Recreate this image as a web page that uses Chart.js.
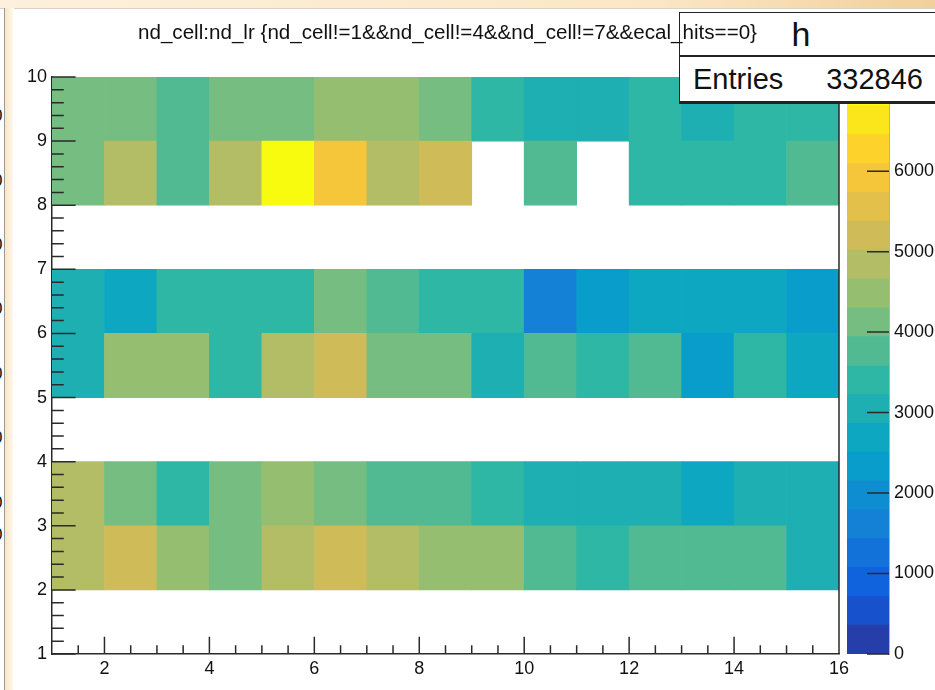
<!doctype html>
<html lang="en">
<head>
<meta charset="utf-8">
<title>nd_cell:nd_lr</title>
<script src="https://cdn.jsdelivr.net/npm/chart.js@4.4.1/dist/chart.umd.min.js"></script>
<style>
  body { margin: 0; background: #fff; }
  #wrap { position: relative; width: 935px; height: 690px; overflow: hidden; background: #fff;
          font-family: 'Liberation Sans', Arial, sans-serif; color: #111; }
  #topbar { position: absolute; left: 0; top: 0; width: 935px; height: 8px;
            background: linear-gradient(to right, #fdf0dc, #fbe7c6 70%, #f1d09a);
            border-bottom: 1px solid #d8d2c8; }
  #leftedge { position: absolute; left: 4px; top: 8px; width: 1px; height: 682px; background: #9a9a9a; }
  #leftbar { position: absolute; left: 5px; top: 8px; width: 9px; height: 682px;
             background: linear-gradient(to right, #fbe6c4, #fdf3e4 70%, #fff); }
  .frag { position: absolute; left: -7px; font-size: 17px; line-height: 17px; }
  canvas { position: absolute; top: 0; }
  #stats { position: absolute; left: 679px; top: 12px; width: 270px; height: 88px;
           border: 1.5px solid #222; border-bottom-width: 3px; background: #fff; }
  #stats .name { position: absolute; left: 0; width: 242px; top: 2px; text-align: center;
                 font-size: 34px; line-height: 38px; }
  #stats .sep { position: absolute; left: 0; right: 0; top: 42px; height: 1.5px; background: #222; }
  #stats .lab { position: absolute; left: 13px; top: 48px; font-size: 29px; line-height: 36px; }
  #stats .val { position: absolute; left: 128px; width: 115px; top: 48px; text-align: right;
                font-size: 29px; line-height: 36px; }
  #title { position: absolute; left: 138px; top: 21px; font-size: 20px; line-height: 22px;
           white-space: nowrap; transform-origin: 0 0; z-index: 2; }
</style>
</head>
<body>
<div id="wrap">
  <div id="topbar"></div>
  <div id="leftedge"></div>
  <div id="leftbar"></div>
  <div class="frag" style="top:107px">0</div>
  <div class="frag" style="top:172px">0</div>
  <div class="frag" style="top:236px">0</div>
  <div class="frag" style="top:300px">0</div>
  <div class="frag" style="top:365px">0</div>
  <div class="frag" style="top:429px">0</div>
  <div class="frag" style="top:494px">0</div>
  <div class="frag" style="top:526px">0</div>

  <canvas id="hmap" width="935" height="690" style="left:0"></canvas>
  <canvas id="zbar" width="95" height="690" style="left:840px"></canvas>

  <div id="stats">
    <div class="name">h</div>
    <div class="sep"></div>
    <div class="lab">Entries</div>
    <div class="val">332846</div>
  </div>
  <div id="title">nd_cell:nd_lr {nd_cell!=1&amp;&amp;nd_cell!=4&amp;&amp;nd_cell!=7&amp;&amp;ecal_hits==0}</div>
</div>

<script>
// nd_lr bins (x) and nd_cell rows (y), counts per bin
var xTicks = [2, 4, 6, 8, 10, 12, 14, 16];
var yTicks = [1, 2, 3, 4, 5, 6, 7, 8, 9, 10];
var zTicks = [0, 1000, 2000, 3000, 4000, 5000, 6000];
var xBinLow = [1, 2, 3, 4, 5, 6, 7, 8, 9, 10, 11, 12, 13, 14, 15];
var rowLow = [2, 3, 5, 6, 8, 9];

var cell2 = [4800, 5240, 4450, 4090, 4860, 5300, 4740, 4510, 4390, 3720, 3410, 3790, 3660, 3870, 3080];
var cell3 = [4930, 4160, 3350, 4020, 4560, 4230, 3810, 3690, 3440, 3150, 3020, 3090, 2740, 2980, 3120];
var cell5 = [3010, 4420, 4590, 3290, 4770, 5160, 4110, 4060, 3180, 3750, 3380, 3640, 2330, 3520, 2670];
var cell6 = [3060, 2590, 3310, 3460, 3390, 4180, 3900, 3530, 3270, 1620, 2440, 2700, 2610, 2820, 2270];
var cell8 = [4250, 4880, 3630, 4690, 7170, 5930, 4970, 5060, 0, 3700, 0, 3370, 3490, 3250, 3830];
var cell9 = [4130, 4070, 3740, 4200, 3990, 4340, 4620, 4280, 3560, 3200, 2910, 3430, 2950, 3320, 3470];
var rows = [cell2, cell3, cell5, cell6, cell8, cell9];

// kBird palette
var birdStops = [0.0, 0.125, 0.25, 0.375, 0.5, 0.625, 0.75, 0.875, 1.0];
var birdR = [0.2082, 0.0592, 0.0780, 0.0232, 0.1802, 0.5301, 0.8186, 0.9956, 0.9764];
var birdG = [0.1664, 0.3599, 0.5041, 0.6419, 0.7178, 0.7492, 0.7328, 0.7862, 0.9832];
var birdB = [0.5293, 0.8684, 0.8385, 0.7914, 0.6425, 0.4662, 0.3499, 0.1968, 0.0539];
var nLevels = 20;
var zMax = Math.max.apply(null, rows.map(function (r) { return Math.max.apply(null, r); }));

function bird(f) {
  var i = 0;
  while (i < birdStops.length - 2 && f > birdStops[i + 1]) i++;
  var t = (f - birdStops[i]) / (birdStops[i + 1] - birdStops[i]);
  var c = function (a) { return Math.round(255 * (a[i] + (a[i + 1] - a[i]) * t)); };
  return 'rgb(' + c(birdR) + ',' + c(birdG) + ',' + c(birdB) + ')';
}
function levelColor(k) { return bird((k + 0.99) / nLevels); }
function cellColor(v) {
  var k = Math.floor(0.01 + v * nLevels / zMax);
  if (k > nLevels - 1) k = nLevels - 1;
  return levelColor(k);
}
function plain(v) { return String(v); }

Chart.defaults.font.family = "'Liberation Sans', Arial, sans-serif";
Chart.defaults.color = '#111';

var datasets = rows.map(function (vals, r) {
  var pts = [];
  vals.forEach(function (v, i) {
    if (v > 0) pts.push({x: xBinLow[i] + 0.5, y: [rowLow[r], rowLow[r] + 1], v: v});
  });
  return {
    data: pts,
    backgroundColor: function (c) { return c.raw ? cellColor(c.raw.v) : '#fff'; },
    borderWidth: 0,
    grouped: false,
    barPercentage: 1,
    categoryPercentage: 1
  };
});

// ROOT style ticks: drawn inward from the axes, majors and minors
var frameTicks = {
  id: 'frameTicks',
  afterDatasetsDraw: function (chart) {
    var ctx = chart.ctx, a = chart.chartArea, x = chart.scales.x, y = chart.scales.y;
    var h = a.bottom - a.top, w = a.right - a.left;
    ctx.save();
    ctx.strokeStyle = '#2a2a2a';
    ctx.lineWidth = 1.5;
    ctx.beginPath();
    for (var v = 1.5; v <= 16; v += 0.5) {
      var px = x.getPixelForValue(v);
      var len = (v % 2 === 0) ? 0.03 * h : 0.015 * h;
      ctx.moveTo(px, a.bottom); ctx.lineTo(px, a.bottom - len);
    }
    for (var u = 1; u <= 10.001; u += 0.2) {
      var py = y.getPixelForValue(u);
      var major = Math.abs(u - Math.round(u)) < 0.01;
      var l2 = major ? 0.03 * w : 0.015 * w;
      ctx.moveTo(a.left, py); ctx.lineTo(a.left + l2, py);
    }
    // right frame edge
    ctx.moveTo(a.right, a.top); ctx.lineTo(a.right, a.bottom);
    ctx.stroke();
    ctx.restore();
  }
};

new Chart(document.getElementById('hmap'), {
  type: 'bar',
  data: {datasets: datasets},
  plugins: [frameTicks],
  options: {
    responsive: false,
    animation: false,
    layout: {padding: {top: 77, right: 96, left: 0, bottom: 0}},
    plugins: {legend: {display: false}, tooltip: {enabled: false}},
    scales: {
      x: {
        type: 'linear', min: 1, max: 16, offset: false,
        grid: {display: false, tickLength: 0},
        border: {display: true, color: '#2a2a2a', width: 1.5},
        afterBuildTicks: function (s) { s.ticks = xTicks.map(function (v) { return {value: v}; }); },
        afterFit: function (s) { s.height = 36; },
        ticks: {font: {size: 18}, padding: 4, maxRotation: 0, autoSkip: false, callback: plain}
      },
      y: {
        type: 'linear', min: 1, max: 10,
        grid: {display: false, tickLength: 0},
        border: {display: true, color: '#2a2a2a', width: 1.5},
        afterBuildTicks: function (s) { s.ticks = yTicks.map(function (v) { return {value: v}; }); },
        afterFit: function (s) { s.width = 52; },
        ticks: {font: {size: 18}, padding: 5, autoSkip: false, callback: plain}
      }
    }
  }
});

// palette axis
var zBands = [];
for (var k = 0; k < nLevels; k++) {
  zBands.push({data: [zMax / nLevels], backgroundColor: levelColor(k), borderWidth: 0,
               barPercentage: 1, categoryPercentage: 1});
}

var zAxisTicks = {
  id: 'zAxisTicks',
  afterDatasetsDraw: function (chart) {
    var ctx = chart.ctx, a = chart.chartArea, z = chart.scales.y;
    ctx.save();
    ctx.strokeStyle = '#2a2a2a';
    ctx.lineWidth = 1.5;
    ctx.beginPath();
    zTicks.forEach(function (v) {
      var py = z.getPixelForValue(v);
      ctx.moveTo(a.right, py); ctx.lineTo(a.right - 22, py);
    });
    ctx.stroke();
    ctx.restore();
  }
};

new Chart(document.getElementById('zbar'), {
  type: 'bar',
  data: {labels: [''], datasets: zBands},
  plugins: [zAxisTicks],
  options: {
    responsive: false,
    animation: false,
    layout: {padding: {top: 77, left: 7, right: 0, bottom: 36}},
    plugins: {legend: {display: false}, tooltip: {enabled: false}},
    scales: {
      x: {display: false, stacked: true},
      y: {
        position: 'right', stacked: true, min: 0, max: zMax,
        grid: {display: false, tickLength: 0},
        border: {display: true, color: '#666', width: 1.5},
        afterBuildTicks: function (s) { s.ticks = zTicks.map(function (v) { return {value: v}; }); },
        afterFit: function (s) { s.width = 46; },
        ticks: {font: {size: 18}, padding: 5, autoSkip: false, callback: plain}
      }
    }
  }
});

// squeeze the title to its box width
var t = document.getElementById('title');
t.style.transform = 'scaleX(' + (619 / t.offsetWidth) + ')';
</script>
</body>
</html>
